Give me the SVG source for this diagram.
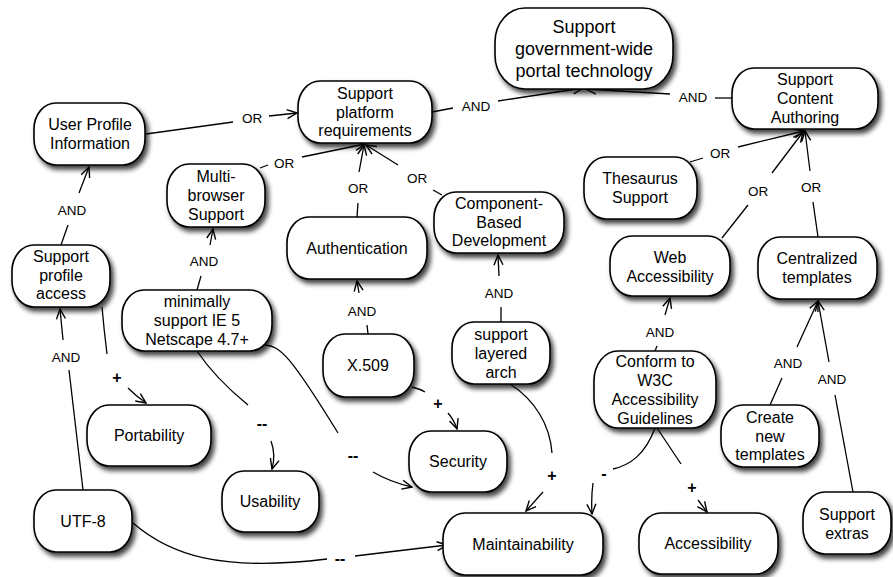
<svg xmlns="http://www.w3.org/2000/svg" width="893" height="577" viewBox="0 0 893 577">
<style>
.n rect{fill:#fff;stroke:#000;stroke-width:1.6;filter:url(#sh)}
.n text{font-family:"Liberation Sans",Arial,sans-serif;font-size:16px;text-anchor:middle;fill:#000}
.c path{fill:none;stroke:#000;stroke-width:1.3}
.c .a{marker-end:url(#ar)}
.l{font-family:"Liberation Sans",Arial,sans-serif;font-size:13.5px;text-anchor:middle;fill:#000}
.s{font-family:"Liberation Sans",Arial,sans-serif;font-size:16px;font-weight:bold;text-anchor:middle;fill:#000}
</style>
<defs>
<filter id="sh" x="-20%" y="-20%" width="150%" height="160%">
<feGaussianBlur in="SourceAlpha" stdDeviation="2.6"/>
<feOffset dx="3" dy="4" result="b"/>
<feComponentTransfer><feFuncA type="linear" slope="0.75"/></feComponentTransfer>
<feMerge><feMergeNode/><feMergeNode in="SourceGraphic"/></feMerge>
</filter>
<marker id="ar" viewBox="0 0 12 12" refX="11" refY="6" markerWidth="12" markerHeight="12" markerUnits="userSpaceOnUse" orient="auto">
<path d="M1,1.5 L11,6 L1,10.5" fill="none" stroke="#000" stroke-width="1.4"/>
</marker>
</defs>
<rect width="893" height="577" fill="#fff"/>

<g class="c" id="connectors">
<path d="M146,134 L233,122"/><path class="a" d="M269,116 L297,113"/>
<path d="M260,168 L268,165"/><path class="a" d="M302,157 L365,144"/>
<path d="M357,217 L358,203"/><path class="a" d="M359,172 L364,145"/>
<path d="M442,195 L433,190"/><path class="a" d="M398,165 L366,145"/>
<path d="M432,112 L453,108"/><path class="a" d="M498,101 L583,88"/>
<path d="M732,98 L715,98"/><path class="a" d="M670,94 L586,89"/>
<path d="M690,162 L703,158"/><path class="a" d="M738,147 L804,131"/>
<path d="M722,238 L748,205"/><path class="a" d="M772,173 L803,132"/>
<path d="M818,237 L813,202"/><path class="a" d="M810,171 L805,131"/>
<path d="M61,245 L68,225"/><path class="a" d="M79,193 L89,167"/>
<path d="M197,290 L201,276"/><path class="a" d="M210,245 L213,229"/>
<path d="M368,334 L367,325"/><path class="a" d="M359,293 L357,281"/>
<path d="M501,322 L501,307"/><path class="a" d="M499,276 L498,255"/>
<path d="M655,351 L657,346"/><path class="a" d="M665,315 L670,298"/>
<path d="M770,405 L782,378"/><path class="a" d="M797,347 L818,301"/>
<path d="M853,492 L835,395"/><path class="a" d="M829,362 L818,301"/>
<path d="M83,490 L69,370"/><path class="a" d="M63,340 L60,309"/>
<path d="M102,307 Q104,330 107,354"/><path class="a" d="M128,388 Q136,396 146,403"/>
<path d="M197,351 Q215,378 248,405"/><path class="a" d="M271,441 Q276,455 272,469"/>
<path d="M265,345 C280,346 290,355 338,433"/><path class="a" d="M373,472 Q390,482 412,487"/>
<path d="M133,523 C170,555 220,572 327,559"/><path class="a" d="M355,556 L447,545"/>
<path d="M412,387 Q420,389 425,392"/><path class="a" d="M448,413 Q454,420 457,429"/>
<path d="M510,384 C535,400 550,425 552,453"/><path class="a" d="M543,492 L526,511"/>
<path d="M655,428 C645,455 630,465 613,469"/><path class="a" d="M593,483 Q591,498 592,514"/>
<path d="M657,428 L681,464"/><path class="a" d="M698,500 L707,512"/>
<text class="l" x="252" y="123">OR</text>
<text class="l" x="284" y="168">OR</text>
<text class="l" x="358" y="193">OR</text>
<text class="l" x="417" y="183">OR</text>
<text class="l" x="476" y="111">AND</text>
<text class="l" x="693" y="102">AND</text>
<text class="l" x="720" y="158">OR</text>
<text class="l" x="758" y="196">OR</text>
<text class="l" x="811" y="192">OR</text>
<text class="l" x="72" y="215">AND</text>
<text class="l" x="204" y="266">AND</text>
<text class="l" x="362" y="316">AND</text>
<text class="l" x="499" y="298">AND</text>
<text class="l" x="660" y="337">AND</text>
<text class="l" x="788" y="368">AND</text>
<text class="l" x="832" y="384">AND</text>
<text class="l" x="66" y="362">AND</text>
<text class="s" x="117" y="383">+</text>
<text class="s" x="262" y="429">--</text>
<text class="s" x="353" y="461">--</text>
<text class="s" x="340" y="564">--</text>
<text class="s" x="438" y="409">+</text>
<text class="s" x="552" y="481">+</text>
<text class="s" x="604" y="479">-</text>
<text class="s" x="692" y="493">+</text>
</g>

<g class="n" id="n-sgwpt"><rect x="495" y="8" width="178" height="81" rx="30" ry="34"/>
<text x="584" y="33" style="font-size:18px">Support</text><text x="584" y="55" style="font-size:18px">government-wide</text><text x="584" y="77" style="font-size:18px">portal technology</text></g>
<g class="n" id="n-spr"><rect x="298" y="81" width="134" height="62" rx="22" ry="26"/>
<text x="365" y="99">Support</text><text x="365" y="118">platform</text><text x="365" y="136">requirements</text></g>
<g class="n" id="n-sca"><rect x="732" y="68" width="146" height="61" rx="22" ry="26"/>
<text x="805" y="85">Support</text><text x="805" y="104">Content</text><text x="805" y="123">Authoring</text></g>
<g class="n" id="n-upi"><rect x="34" y="103" width="111" height="62" rx="22" ry="26"/>
<text x="90" y="130">User Profile</text><text x="90" y="149">Information</text></g>
<g class="n" id="n-mbs"><rect x="167" y="164" width="98" height="63" rx="22" ry="26"/>
<text x="216" y="182">Multi-</text><text x="216" y="201">browser</text><text x="216" y="220">Support</text></g>
<g class="n" id="n-ts"><rect x="584" y="157" width="113" height="62" rx="22" ry="26"/>
<text x="640" y="184">Thesaurus</text><text x="640" y="203">Support</text></g>
<g class="n" id="n-cbd"><rect x="434" y="192" width="130" height="61" rx="22" ry="26"/>
<text x="499" y="209">Component-</text><text x="499" y="228">Based</text><text x="499" y="246">Development</text></g>
<g class="n" id="n-auth"><rect x="287" y="217" width="140" height="62" rx="22" ry="26"/>
<text x="357" y="254">Authentication</text></g>
<g class="n" id="n-wa"><rect x="610" y="236" width="120" height="60" rx="22" ry="26"/>
<text x="670" y="263">Web</text><text x="670" y="282">Accessibility</text></g>
<g class="n" id="n-ct"><rect x="758" y="237" width="119" height="62" rx="22" ry="26"/>
<text x="817" y="264">Centralized</text><text x="817" y="283">templates</text></g>
<g class="n" id="n-spa"><rect x="12" y="245" width="98" height="62" rx="22" ry="26"/>
<text x="61" y="262">Support</text><text x="61" y="281">profile</text><text x="61" y="299">access</text></g>
<g class="n" id="n-min"><rect x="122" y="290" width="150" height="61" rx="22" ry="26"/>
<text x="197" y="307">minimally</text><text x="197" y="326">support IE 5</text><text x="197" y="345">Netscape 4.7+</text></g>
<g class="n" id="n-sla"><rect x="452" y="322" width="98" height="62" rx="22" ry="26"/>
<text x="501" y="340">support</text><text x="501" y="359">layered</text><text x="501" y="378">arch</text></g>
<g class="n" id="n-x509"><rect x="323" y="334" width="91" height="63" rx="22" ry="26"/>
<text x="368" y="371">X.509</text></g>
<g class="n" id="n-w3c"><rect x="594" y="351" width="122" height="77" rx="24" ry="30"/>
<text x="655" y="367">Conform to</text><text x="655" y="386">W3C</text><text x="655" y="405">Accessibility</text><text x="655" y="424">Guidelines</text></g>
<g class="n" id="n-port"><rect x="87" y="405" width="124" height="61" rx="22" ry="26"/>
<text x="149" y="441">Portability</text></g>
<g class="n" id="n-cnt"><rect x="721" y="405" width="98" height="62" rx="22" ry="26"/>
<text x="770" y="423">Create</text><text x="770" y="442">new</text><text x="770" y="460">templates</text></g>
<g class="n" id="n-sec"><rect x="409" y="431" width="98" height="61" rx="22" ry="26"/>
<text x="458" y="467">Security</text></g>
<g class="n" id="n-usa"><rect x="222" y="471" width="97" height="61" rx="22" ry="26"/>
<text x="270" y="507">Usability</text></g>
<g class="n" id="n-utf"><rect x="34" y="490" width="98" height="62" rx="22" ry="26"/>
<text x="83" y="527">UTF-8</text></g>
<g class="n" id="n-se"><rect x="803" y="492" width="88" height="62" rx="22" ry="26"/>
<text x="847" y="520">Support</text><text x="847" y="539">extras</text></g>
<g class="n" id="n-main"><rect x="443" y="513" width="160" height="62" rx="22" ry="26"/>
<text x="523" y="550">Maintainability</text></g>
<g class="n" id="n-acc"><rect x="639" y="513" width="139" height="61" rx="22" ry="26"/>
<text x="708" y="549">Accessibility</text></g>
</svg>
